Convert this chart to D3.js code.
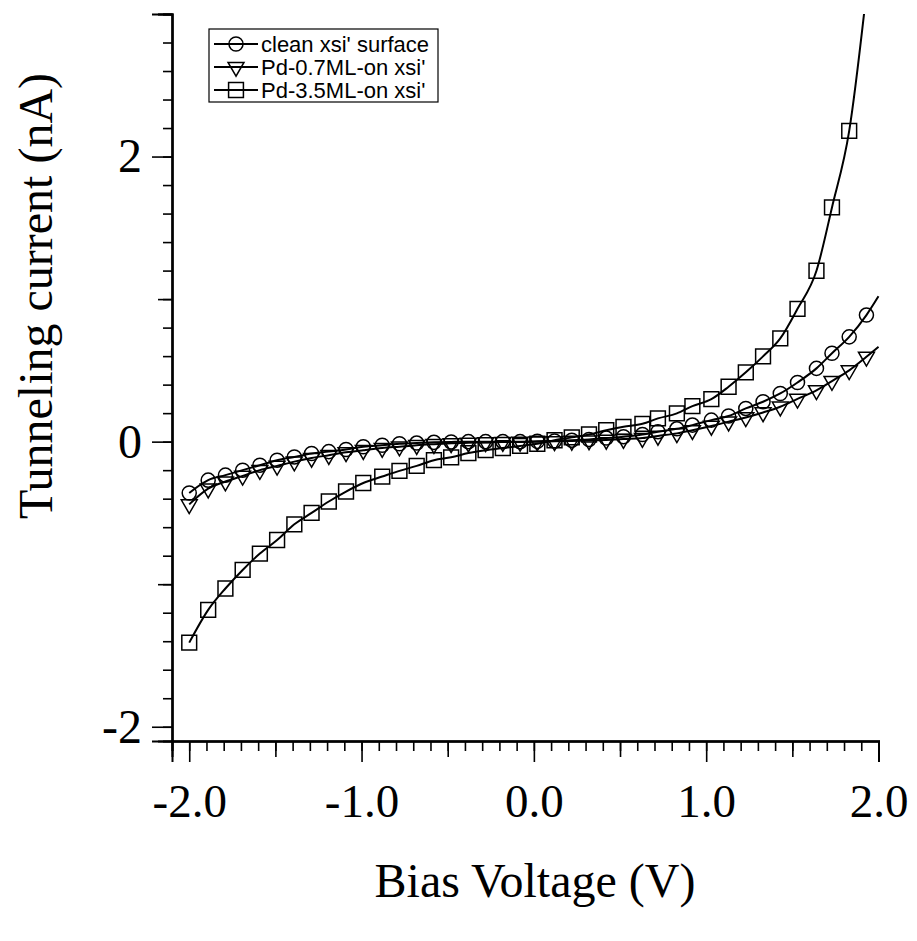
<!DOCTYPE html>
<html>
<head>
<meta charset="utf-8">
<script src="https://cdn.jsdelivr.net/npm/d3@7"></script>
<style>
  body { margin: 0; background: #fff; }
  svg { display: block; }
</style>
</head>
<body>
<div id="plotPanel"></div>
<script>
// bias voltage of each measured point (V)
let biasV = [-2.00, -1.89, -1.79, -1.69, -1.59, -1.49, -1.39, -1.29, -1.19, -1.09,
             -0.99, -0.88, -0.78, -0.68, -0.58, -0.48, -0.38, -0.28, -0.18, -0.08,
              0.02,  0.12,  0.22,  0.32,  0.42,  0.52,  0.63,  0.72,  0.83,  0.92,
              1.03,  1.13,  1.23,  1.33,  1.43,  1.53,  1.64,  1.73,  1.83,  1.93];

// tunneling current (nA)
let cleanI = [-0.36, -0.27, -0.235, -0.20, -0.165, -0.13, -0.107, -0.083, -0.07, -0.055,
              -0.036, -0.025, -0.015, -0.01, -0.005, -0.002, 0.0, 0.0, 0.0, 0.0,
               0.002, 0.005, 0.01, 0.015, 0.025, 0.035, 0.05, 0.07, 0.09, 0.116,
               0.151, 0.18, 0.233, 0.28, 0.338, 0.415, 0.514, 0.62, 0.735, 0.888];
let pd07I = [-0.44, -0.33, -0.28, -0.24, -0.20, -0.17, -0.14, -0.115, -0.095, -0.075,
             -0.06, -0.045, -0.035, -0.025, -0.018, -0.012, -0.008, -0.005, -0.003, -0.002,
              0.0, 0.002, 0.005, 0.008, 0.012, 0.018, 0.025, 0.04, 0.058, 0.08,
              0.11, 0.14, 0.17, 0.205, 0.245, 0.30, 0.36, 0.425, 0.50, 0.595];
let pd35I = [-1.41, -1.18, -1.03, -0.90, -0.785, -0.69, -0.58, -0.50, -0.42, -0.35,
             -0.29, -0.245, -0.205, -0.17, -0.13, -0.11, -0.08, -0.06, -0.045, -0.03,
             -0.015, 0.01, 0.03, 0.05, 0.08, 0.104, 0.125, 0.163, 0.198, 0.249,
              0.298, 0.385, 0.486, 0.598, 0.724, 0.932, 1.199, 1.643, 2.18];

// fitted curves run a little past the last marker
let cleanEnd = [2.0, 1.02];
let pd07End = [2.0, 0.665];
let pd35End = [1.93, 3.15];

let seriesNames = ["clean xsi' surface", "Pd-0.7ML-on xsi'", "Pd-3.5ML-on xsi'"];

let xMajorTicks = [-2, -1, 0, 1, 2];
let xTickLabels = ["-2.0", "-1.0", "0.0", "1.0", "2.0"];
let xMidTicks = [-1.5, -0.5, 0.5, 1.5];
let yMajorTicks = [-2, 0, 2];
let yTickLabels = ["-2", "0", "2"];
let yMidTicks = [-1, 1, 3];

let W = 917, H = 941;
let serif = "'Liberation Serif', 'Times New Roman', serif";
let sans = "'Liberation Sans', Arial, sans-serif";

var xScale = d3.scaleLinear().domain([-2.1, 2.0]).range([172, 878.5]);
var yScale = d3.scaleLinear().domain([-2.1, 3.0]).range([741, 14]);

var svg = d3.select("#plotPanel").append("svg")
    .attr("width", W)
    .attr("height", H);

svg.append("clipPath").attr("id", "plotClip")
  .append("rect")
    .attr("x", xScale(-2.1)).attr("y", yScale(3.0))
    .attr("width", xScale(2.0) - xScale(-2.1) + 4)
    .attr("height", yScale(-2.1) - yScale(3.0));

// x axis: minor, mid and major ticks
let xMinor = d3.range(-21, 21).map(d => d / 10);
let xAxisG = svg.append("g").attr("transform", "translate(0," + yScale(-2.1) + ")");
xAxisG.append("g").call(d3.axisBottom(xScale).tickValues(xMinor).tickSize(10).tickFormat(""));
xAxisG.append("g").call(d3.axisBottom(xScale).tickValues(xMidTicks).tickSize(16).tickFormat(""));
xAxisG.append("g").attr("class", "xmajor")
    .call(d3.axisBottom(xScale).tickValues(xMajorTicks).tickSize(21)
      .tickPadding(22).tickFormat((d, i) => xTickLabels[i]));
xAxisG.selectAll(".xmajor text")
    .style("font-family", serif).style("font-size", "47px").attr("fill", "#000");

// y axis
let yMinor = d3.range(-10, 16).map(d => d / 5);
let yAxisG = svg.append("g").attr("transform", "translate(" + xScale(-2.1) + ",0)");
yAxisG.append("g").call(d3.axisLeft(yScale).tickValues(yMinor).tickSize(9).tickFormat(""));
yAxisG.append("g").call(d3.axisLeft(yScale).tickValues(yMidTicks).tickSize(14).tickFormat(""));
yAxisG.append("g").attr("class", "ymajor")
    .call(d3.axisLeft(yScale).tickValues(yMajorTicks).tickSize(20)
      .tickPadding(10).tickFormat((d, i) => yTickLabels[i]));
yAxisG.selectAll(".ymajor text")
    .style("font-family", serif).style("font-size", "48px").attr("fill", "#000");

svg.selectAll(".domain").attr("stroke", "#000").attr("stroke-width", 2);
svg.selectAll(".tick line").attr("stroke", "#000").attr("stroke-width", 1.6);

// axis titles
svg.append("text")
    .attr("x", 535).attr("y", 897)
    .attr("text-anchor", "middle")
    .style("font-family", serif).style("font-size", "48px")
    .text("Bias Voltage (V)");

svg.append("text")
    .attr("transform", "translate(52,296) rotate(-90)")
    .attr("text-anchor", "middle")
    .style("font-family", serif).style("font-size", "48px")
    .text("Tunneling current (nA)");

// curves + markers
var line = d3.line()
    .x(d => xScale(d[0]))
    .y(d => yScale(d[1]))
    .curve(d3.curveMonotoneX);

let series = [
  { vals: cleanI, end: cleanEnd, sym: d3.symbolCircle, size: 155, rot: 0 },
  { vals: pd07I, end: pd07End, sym: d3.symbolTriangle, size: 110, rot: 180 },
  { vals: pd35I, end: pd35End, sym: d3.symbolSquare, size: 220, rot: 0 }
];

let plotG = svg.append("g").attr("clip-path", "url(#plotClip)");

series.forEach(s => {
  let pts = s.vals.map((v, i) => [biasV[i], v]);
  plotG.append("path")
      .datum(pts.concat([s.end]))
      .attr("fill", "none")
      .attr("stroke", "#000")
      .attr("stroke-width", 2)
      .attr("d", line);
  plotG.selectAll(null)
      .data(pts)
      .enter().append("path")
      .attr("d", d3.symbol().type(s.sym).size(s.size))
      .attr("transform", d => "translate(" + xScale(d[0]) + "," + yScale(d[1]) + ") rotate(" + s.rot + ")")
      .attr("fill", "none")
      .attr("stroke", "#000")
      .attr("stroke-width", 1.5);
});

// legend
let legG = svg.append("g");
legG.append("rect")
    .attr("x", 209).attr("y", 29).attr("width", 229).attr("height", 73)
    .attr("fill", "#fff").attr("stroke", "#000").attr("stroke-width", 1.2);

series.forEach((s, i) => {
  let ly = 44 + i * 23;
  legG.append("line")
      .attr("x1", 214).attr("x2", 258).attr("y1", ly).attr("y2", ly)
      .attr("stroke", "#000").attr("stroke-width", 2);
  legG.append("path")
      .attr("d", d3.symbol().type(s.sym).size(s.size))
      .attr("transform", "translate(236," + ly + ") rotate(" + s.rot + ")")
      .attr("fill", "none").attr("stroke", "#000").attr("stroke-width", 1.5);
  legG.append("text")
      .attr("x", 261).attr("y", ly)
      .attr("dy", "0.35em")
      .style("font-family", sans).style("font-size", "22px")
      .text(seriesNames[i]);
});
</script>
</body>
</html>
